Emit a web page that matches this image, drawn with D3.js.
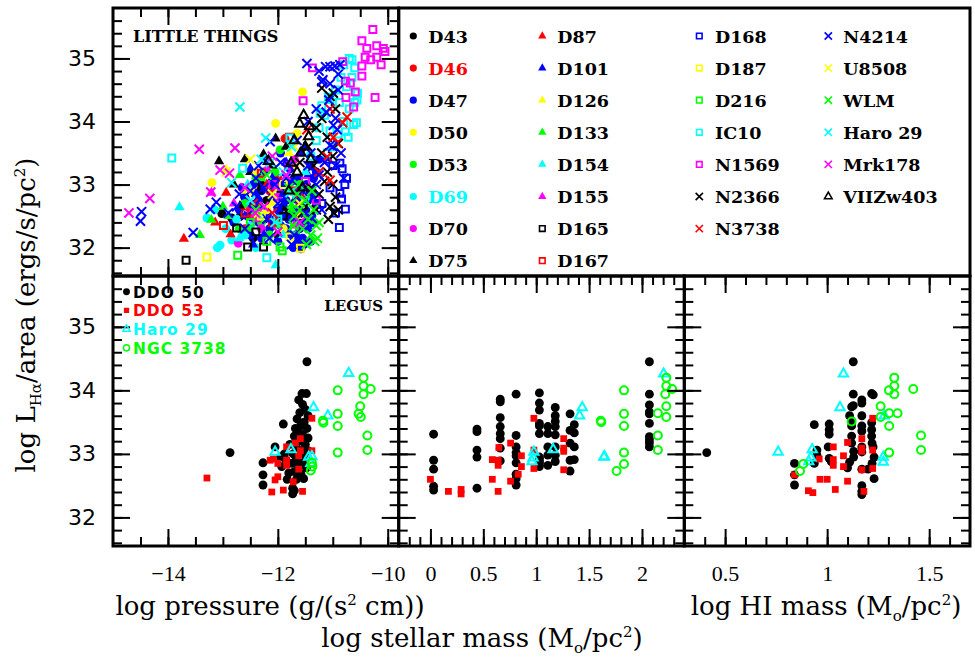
<!DOCTYPE html>
<html>
<head>
<meta charset="utf-8">
<script src="https://cdn.jsdelivr.net/npm/d3@7"></script>
<style>
  body { margin: 0; background: #fff; }
  svg { display: block; }
</style>
</head>
<body>
<div id="chart"></div>
<script>
// ---- LITTLE THINGS: [log pressure, log LHa/area] ----
var d43 = [[-13.02,32.54],[-12.84,32.47],[-12.69,32.49],[-12.55,32.3],[-12.4,32.6],[-12.2,32.75],[-12.1,32.4],[-11.95,32.9],[-11.8,32.55],[-12.6,32.8],[-12.3,33.0],[-11.7,33.1],[-12.0,32.2],[-12.45,32.15],[-11.9,32.65]];
var d46 = [[-12.3,32.5],[-12.0,33.1],[-11.6,32.7],[-12.6,32.3],[-11.87,33.73],[-12.15,32.9],[-11.75,33.3]];
var d47 = [[-12.8,32.4],[-12.7,32.6],[-12.6,32.8],[-12.55,32.5],[-12.5,32.2],[-12.45,33.0],[-12.4,32.7],[-12.35,32.4],[-12.3,32.9],[-12.25,33.2],[-12.2,32.55],[-12.15,32.3],[-12.1,32.8],[-12.05,33.05],[-12.0,32.6],[-11.95,32.35],[-11.9,33.0],[-11.85,32.75],[-11.8,32.45],[-11.78,33.25],[-11.75,32.9],[-11.7,32.6],[-11.68,32.2],[-11.65,32.05],[-11.62,33.1],[-11.6,32.8],[-11.58,32.4],[-11.55,32.15],[-11.52,32.05],[-11.5,32.6],[-11.48,33.0],[-11.45,32.3],[-11.42,32.85],[-11.4,33.3],[-11.38,32.5],[-11.35,33.1],[-11.3,32.7],[-11.25,33.4],[-12.45,32.45],[-12.2,33.4],[-11.95,33.5],[-12.65,32.95],[-12.0,32.1],[-11.72,32.0],[-12.3,32.15],[-12.35,32.75],[-12.15,33.0],[-11.9,32.5],[-11.65,32.45],[-11.55,32.65],[-11.45,32.75],[-11.35,32.4],[-11.3,33.2],[-12.05,32.45],[-11.85,32.3],[-11.6,32.3],[-12.55,32.7],[-12.25,32.45],[-11.75,33.05],[-11.5,32.4],[-11.4,32.1],[-11.62,32.12],[-11.58,31.98]];
var d50 = [[-11.55,34.47],[-12.04,33.97],[-13.2,33.03],[-11.65,33.81],[-12.2,32.6],[-11.9,32.3],[-11.7,33.3],[-12.5,32.9]];
var d53 = [[-11.96,33.55],[-12.6,32.7],[-12.3,32.4],[-12.05,33.2],[-11.8,32.9],[-12.4,33.1],[-11.6,33.0],[-12.15,32.2],[-12.7,32.3]];
var d69 = [[-13.29,32.47],[-13.05,32.04],[-12.84,32.12],[-12.95,32.3],[-12.6,32.2],[-12.4,32.0],[-13.15,32.6],[-12.75,32.45],[-12.5,32.35],[-13.1,32.0]];
var d70 = [[-12.72,32.07],[-12.3,32.3],[-12.0,32.8],[-11.7,33.4],[-12.5,32.6]];
var d75 = [[-13.07,33.37],[-12.26,33.48],[-12.04,33.73],[-12.69,32.66],[-12.5,33.2],[-12.35,32.9],[-12.1,33.3],[-11.85,33.6],[-12.8,33.0],[-12.6,33.4]];
var d87 = [[-13.71,32.14],[-12.94,32.87],[-13.14,32.4],[-12.86,32.21],[-12.5,32.5],[-12.2,33.0],[-12.0,32.4]];
var d101 = [[-12.6,32.5],[-12.4,32.85],[-12.25,32.2],[-12.1,33.1],[-11.95,32.55],[-11.85,33.35],[-11.7,32.75],[-11.55,32.45],[-11.45,33.15],[-11.35,32.9],[-12.5,33.25],[-12.0,32.95],[-11.8,32.2],[-11.6,33.5],[-12.3,32.65],[-11.9,32.85],[-12.15,32.45],[-11.65,32.6],[-11.5,33.6],[-12.45,32.05]];
var d126 = [[-12.4,33.2],[-12.1,32.7],[-11.8,33.5],[-11.6,32.5],[-12.6,32.9],[-12.94,33.23]];
var d133 = [[-13.42,32.2],[-13.21,32.44],[-12.69,33.15],[-12.9,32.5],[-12.55,32.3],[-12.3,33.1],[-12.0,32.35],[-11.75,32.6],[-13.0,32.65]];
var d154 = [[-13.79,32.64],[-12.04,31.72],[-12.7,32.15],[-12.3,32.5],[-11.9,32.2],[-11.5,33.2],[-12.55,33.0]];
var d155 = [[-13.21,32.87],[-12.8,32.7],[-12.4,32.45],[-12.0,32.95],[-11.7,32.35],[-12.2,33.25]];
var d165 = [[-13.67,31.8],[-12.75,32.31],[-12.55,32.01],[-12.26,32.01],[-12.4,32.25],[-11.9,32.5]];
var d167 = [[-12.99,32.35],[-12.3,33.18],[-11.79,33.75],[-12.6,32.55],[-12.1,32.4],[-11.7,32.9]];
var d168 = [[-10.87,33.34],[-10.83,33.25],[-10.87,32.86],[-10.84,32.77],[-10.77,32.61],[-10.88,32.32],[-10.75,33.1],[-10.78,33.0],[-11.0,33.3],[-11.05,32.95],[-11.2,32.7],[-11.4,32.4],[-11.6,32.9],[-11.1,33.4],[-10.95,32.55]];
var d187 = [[-13.29,31.85],[-11.78,32.17],[-11.59,31.99],[-12.3,32.5],[-11.9,33.0]];
var d216 = [[-12.73,31.88],[-11.96,32.01],[-11.92,31.95],[-12.2,32.1],[-12.5,32.4],[-11.7,32.3]];
var ic10 = [[-13.93,33.42],[-12.64,33.26],[-12.2,31.84],[-11.78,33.74],[-10.65,34.98],[-10.56,34.34],[-10.57,33.98],[-10.77,33.84],[-11.08,34.39],[-11.23,34.13],[-11.25,33.9],[-11.15,34.1],[-11.05,34.35],[-10.95,34.5],[-10.85,34.7],[-10.8,34.9],[-10.7,35.0],[-10.75,34.55],[-10.65,34.7],[-10.6,34.3],[-10.7,34.2],[-10.8,34.0],[-10.9,33.8],[-11.0,33.6],[-11.1,33.5],[-10.62,33.95],[-10.55,34.45],[-10.88,34.3],[-11.2,34.25],[-10.72,33.75],[-10.6,34.85],[-11.3,33.7],[-11.05,33.85],[-12.0,32.45],[-11.5,32.75],[-11.4,33.45]];
var n1569 = [[-10.27,35.46],[-10.47,35.28],[-10.2,35.2],[-10.38,35.16],[-10.08,35.16],[-10.05,35.11],[-10.41,35.02],[-10.2,35.02],[-10.31,34.98],[-10.12,34.9],[-10.47,34.88],[-11.37,34.85],[-10.82,34.95],[-10.47,34.72],[-10.77,34.64],[-10.68,34.61],[-10.59,34.47],[-10.76,34.38],[-10.23,34.38],[-11.54,34.33],[-10.62,34.23],[-11.8,33.3],[-12.1,33.0],[-11.5,33.05],[-11.3,32.75]];
var n2366 = [[-11.45,33.6],[-11.3,33.9],[-11.2,33.5],[-11.1,33.2],[-11.0,33.0],[-10.95,32.8],[-10.9,32.6],[-11.05,32.65],[-11.15,33.05],[-11.25,32.85],[-11.35,33.3],[-11.4,32.95],[-11.0,33.45],[-10.9,33.65],[-11.1,33.75],[-11.2,34.05],[-10.95,34.2],[-11.05,34.4],[-11.5,32.65],[-11.6,33.35],[-10.98,32.55],[-11.08,32.45],[-11.3,32.6],[-11.55,32.55],[-10.99,34.45],[-11.2,34.53]];
var n3738 = [[-10.74,34.07],[-10.82,33.98],[-10.92,33.66],[-11.05,33.07],[-10.99,33.75],[-11.05,34.2],[-11.47,33.87],[-11.59,32.87],[-11.1,33.44],[-12.38,32.65],[-12.45,32.7],[-12.1,32.55],[-11.25,33.2]];
var n4214 = [[-11.47,34.92],[-11.13,34.87],[-11.05,34.87],[-10.96,34.88],[-10.87,34.9],[-10.9,34.75],[-11.2,34.63],[-11.18,34.66],[-10.9,34.5],[-11.07,34.34],[-11.12,34.15],[-10.99,33.94],[-10.92,33.87],[-11.05,33.62],[-14.48,32.57],[-14.5,32.42],[-13.54,32.24],[-13.23,32.61],[-13.12,32.72],[-12.14,33.68],[-12.9,32.55],[-12.7,32.85],[-12.45,32.6],[-12.25,32.95],[-12.0,32.7],[-11.85,33.1],[-11.7,32.5],[-11.55,32.9],[-11.4,33.5],[-11.3,33.0],[-11.2,32.6],[-12.6,32.3],[-12.35,33.3],[-11.95,33.35],[-11.65,33.7],[-11.45,34.0],[-11.3,34.2],[-10.95,33.3],[-10.85,33.5],[-10.8,33.1],[-12.15,32.15],[-11.75,32.05],[-12.5,32.9],[-12.2,32.45],[-12.05,33.0],[-11.9,32.7],[-11.8,33.3],[-11.6,32.95],[-11.5,32.55],[-11.35,32.8],[-11.25,33.15],[-11.15,33.35],[-11.0,33.6],[-10.95,34.05],[-12.4,33.1],[-12.75,32.65],[-11.7,32.2],[-11.45,33.3],[-11.05,34.6],[-11.25,34.8]];
var u8508 = [[-12.94,33.2],[-12.5,33.4],[-12.1,32.85],[-11.7,33.6],[-11.6,32.7],[-12.35,32.55]];
var wlm = [[-11.8,32.95],[-11.75,32.7],[-11.7,32.5],[-11.65,32.85],[-11.6,32.6],[-11.55,32.3],[-11.5,32.75],[-11.45,32.45],[-11.4,32.2],[-11.35,32.6],[-11.3,32.35],[-11.28,32.15],[-11.38,32.9],[-11.62,33.0],[-11.72,32.35],[-11.48,32.05],[-11.33,32.1],[-11.25,32.4],[-12.2,33.15],[-12.4,32.6]];
var haro29 = [[-12.69,34.23],[-12.22,33.74],[-12.84,33.03],[-12.14,33.35],[-11.78,32.87],[-12.5,32.75],[-11.9,33.2],[-11.75,33.6],[-12.3,33.4],[-12.05,32.4]];
var mrk178 = [[-14.71,32.55],[-14.33,32.78],[-13.43,33.56],[-12.78,33.58],[-13.05,33.23],[-12.88,33.18],[-13.22,32.88],[-12.41,32.55],[-12.1,33.45],[-11.85,33.15],[-12.6,32.95],[-11.6,32.4],[-12.25,32.65],[-12.0,32.25]];
var viizw403 = [[-11.53,34.1],[-11.6,33.96],[-11.42,33.92],[-11.44,33.76],[-11.5,33.6],[-11.58,33.5],[-11.7,33.7],[-12.17,33.37],[-11.76,33.34],[-11.65,33.2],[-11.8,32.9],[-11.4,33.4],[-11.55,32.95]];

// ---- LEGUS: [x, log LHa/area] for pressure, stellar mass and HI mass ----
var ddo50P = [[-11.47,34.45],[-11.56,33.95],[-11.48,33.95],[-11.62,33.85],[-11.55,33.78],[-11.5,33.7],[-11.6,33.65],[-11.45,33.6],[-11.65,33.55],[-11.52,33.5],[-11.58,33.45],[-11.68,33.4],[-11.47,33.4],[-11.62,33.35],[-11.55,33.3],[-11.7,33.28],[-11.45,33.25],[-11.6,33.2],[-11.5,33.15],[-11.66,33.1],[-11.56,33.05],[-11.45,33.05],[-11.72,33.0],[-11.6,32.95],[-11.5,32.95],[-11.67,32.9],[-11.55,32.85],[-11.75,32.85],[-11.62,32.8],[-11.48,32.78],[-11.7,32.72],[-11.58,32.68],[-11.53,32.61],[-11.66,32.6],[-11.73,32.46],[-11.73,32.37],[-11.7,32.42],[-11.9,33.47],[-12.05,33.11],[-11.93,32.8],[-11.88,33.0],[-12.27,32.86],[-12.27,32.67],[-12.27,32.51],[-12.87,33.02],[-11.8,32.7],[-11.85,32.9],[-11.95,32.95],[-11.78,33.15],[-11.83,32.6]];
var ddo53P = [[-13.29,32.62],[-12.14,32.9],[-12.08,32.92],[-11.84,33.11],[-11.84,32.9],[-11.84,32.82],[-11.68,33.17],[-11.59,33.24],[-11.59,33.05],[-11.62,32.97],[-11.38,33.56],[-11.38,33.05],[-12.05,32.59],[-12.0,32.64],[-11.72,32.56],[-12.11,32.4],[-11.9,32.43],[-11.55,32.41],[-11.62,32.76],[-12.0,32.85]];
var haroP = [[-10.71,34.27],[-11.35,33.73],[-11.09,33.6],[-12.05,33.03],[-11.76,33.07],[-11.44,32.95],[-11.38,32.96],[-11.4,32.85]];
var ngcP = [[-10.44,34.2],[-10.44,34.07],[-10.31,34.02],[-10.44,33.94],[-10.91,34.0],[-10.5,33.75],[-10.53,33.63],[-10.49,33.58],[-10.91,33.63],[-10.91,33.44],[-11.18,33.52],[-11.17,33.49],[-10.37,33.29],[-10.37,33.06],[-10.91,33.02],[-11.38,32.86],[-11.4,32.74],[-11.37,32.8]];

var ddo50S = [[0.03,33.31],[0.03,32.9],[0.03,32.76],[0.03,32.49],[0.03,32.43],[0.44,33.39],[0.44,33.35],[0.44,33.06],[0.44,32.95],[0.44,32.46],[0.66,33.86],[0.66,33.82],[0.66,33.57],[0.66,33.43],[0.66,33.32],[0.66,33.24],[0.66,33.09],[0.66,32.89],[0.81,33.94],[0.81,33.29],[0.81,33.11],[0.81,33.02],[0.81,32.97],[0.81,32.86],[0.81,32.68],[0.81,32.61],[0.81,32.51],[1.03,33.96],[1.03,33.8],[1.03,33.69],[1.03,33.48],[1.03,33.44],[1.03,33.32],[1.03,32.95],[1.03,32.88],[1.03,32.8],[1.03,32.85],[1.03,32.92],[1.11,33.43],[1.11,33.32],[1.11,33.11],[1.11,32.98],[1.11,32.82],[1.18,33.73],[1.18,33.6],[1.18,33.51],[1.18,33.43],[1.18,33.3],[1.18,33.11],[1.18,32.98],[1.18,32.88],[1.32,33.63],[1.32,33.37],[1.32,33.17],[1.32,32.9],[1.32,32.73],[1.36,33.46],[1.36,33.33],[1.36,33.11],[1.36,32.91],[2.07,34.45],[2.07,33.94],[2.07,33.77],[2.07,33.66],[2.07,33.63],[2.07,33.48],[2.07,33.27],[2.07,33.22],[2.07,33.17],[2.07,33.11]];
var ddo53S = [[0.0,32.6],[0.17,32.41],[0.29,32.44],[0.29,32.37],[0.585,32.91],[0.647,33.1],[0.64,32.9],[0.64,32.82],[0.585,32.6],[0.64,32.41],[0.758,33.17],[0.86,32.97],[0.86,32.8],[0.83,32.68],[0.758,32.57],[0.978,33.56],[0.978,33.06],[0.978,32.77],[1.26,33.24],[1.26,33.09],[1.26,33.04],[1.26,32.75]];
var haroS = [[1.435,33.73],[1.41,33.6],[0.978,33.03],[0.97,32.94],[0.96,32.88],[1.16,33.07],[1.64,32.95],[1.645,32.96],[2.205,34.26]];
var ngcS = [[1.61,33.52],[1.615,33.5],[1.83,34.0],[1.83,33.63],[1.83,33.44],[1.83,33.02],[1.83,32.84],[1.76,32.73],[2.23,34.2],[2.23,34.07],[2.285,34.02],[2.22,33.94],[2.23,33.75],[2.23,33.58],[2.15,33.64],[2.15,33.29],[2.15,33.06]];

var ddo50H = [[0.41,33.02],[0.84,32.85],[0.84,32.67],[0.84,32.51],[0.937,33.46],[0.95,33.06],[0.95,32.98],[0.937,32.85],[1.01,33.47],[1.01,33.38],[1.01,33.31],[1.005,33.11],[1.01,32.93],[1.02,32.88],[1.128,34.45],[1.128,33.94],[1.12,33.74],[1.128,33.76],[1.11,33.6],[1.12,33.44],[1.12,33.28],[1.12,33.17],[1.13,33.04],[1.13,32.95],[1.11,32.87],[1.1,32.78],[1.17,33.85],[1.17,33.8],[1.17,33.6],[1.17,33.44],[1.17,33.36],[1.17,33.11],[1.17,33.03],[1.17,32.76],[1.17,32.5],[1.17,32.41],[1.17,32.36],[1.218,33.95],[1.226,33.93],[1.218,33.49],[1.218,33.38],[1.218,33.28],[1.22,33.17],[1.225,33.11],[1.23,32.95],[1.22,32.85],[1.23,32.61],[1.2,32.76],[1.12,33.52]];
var ddo53H = [[0.84,32.67],[0.961,32.92],[0.965,32.6],[1.0,32.6],[0.908,32.42],[0.93,32.39],[1.04,32.44],[1.03,33.11],[1.03,32.91],[1.03,32.82],[1.08,32.8],[1.08,32.97],[1.10,33.18],[1.10,32.57],[1.17,33.24],[1.17,33.09],[1.17,33.04],[1.17,32.75],[1.223,33.56],[1.223,33.06],[1.223,32.77],[1.18,32.41]];
var haroH = [[0.76,33.03],[0.927,33.07],[0.92,32.94],[0.91,32.88],[1.08,34.26],[1.063,33.73],[1.275,32.95],[1.275,32.87],[1.28,33.6]];
var ngcH = [[1.12,33.51],[0.867,32.73],[0.883,32.84],[1.329,34.2],[1.329,34.07],[1.303,34.0],[1.329,33.94],[1.422,34.02],[1.262,33.75],[1.262,33.58],[1.304,33.64],[1.345,33.64],[1.304,33.44],[1.304,33.02],[1.46,33.29],[1.46,33.06]];

// tick values
var yMajor = [32, 33, 34, 35];
var pMajor = [-14, -12, -10];
var sMajor = [0, 0.5, 1, 1.5, 2];
var hMajor = [0.5, 1, 1.5];

var width = 975, height = 658;
var X0 = 113, X1 = 398.7, X2 = 684.3, X3 = 970;
var Y0 = 8, Y1 = 276, Y2 = 546;

var serif = "'DejaVu Serif', serif";
var sans = "'DejaVu Sans', sans-serif";

var svg = d3.select("#chart").append("svg")
    .attr("width", width)
    .attr("height", height);

var xP = d3.scaleLinear().domain([-15, -9.8]).range([X0, X1]);
var xS = d3.scaleLinear().domain([-0.3, 2.4]).range([X1, X2]);
var xH = d3.scaleLinear().domain([0.3, 1.7]).range([X2, X3]);
var yTop = d3.scaleLinear().domain([31.55, 35.8]).range([Y1, Y0]);
var yBot = d3.scaleLinear().domain([31.55, 35.8]).range([Y2, Y1]);

var yMinor = d3.range(158, 179).map(v => v / 5);
var pMinor = d3.range(-29, -19).map(v => v / 2);
var sMinor = d3.range(-2, 24).map(v => v / 10);
var hMinor = d3.range(4, 17).map(v => v / 10);

// marker shapes
function marker(type, size) {
    var s = size || 1;
    if (type == "fcircle") return { d: d3.symbol(d3.symbolCircle, 62 * s)(), fill: true };
    if (type == "ftri") return { d: d3.symbol(d3.symbolTriangle, 46 * s)(), fill: true };
    if (type == "fsq") return { d: d3.symbol(d3.symbolSquare, 46 * s)(), fill: true };
    if (type == "osq") return { d: d3.symbol(d3.symbolSquare, 48 * s)(), fill: false };
    if (type == "cross") return { d: d3.symbol(d3.symbolTimes, 56 * s)(), fill: false };
    if (type == "otri") return { d: d3.symbol(d3.symbolTriangle, 38 * s)(), fill: false };
    if (type == "ocircle") return { d: d3.symbol(d3.symbolCircle, 50 * s)(), fill: false };
}

function drawPoints(g, data, x, y, type, color) {
    var m = marker(type);
    g.append("g")
        .selectAll("path")
        .data(data)
        .enter()
        .append("path")
        .attr("d", m.d)
        .attr("transform", d => "translate(" + x(d[0]) + "," + y(d[1]) + ")")
        .attr("fill", m.fill ? color : "none")
        .attr("stroke", m.fill ? "none" : color)
        .attr("stroke-width", 2);
}

// top panel series, in legend order
var series = [
    ["D43", d43, "fcircle", "#000000"], ["D46", d46, "fcircle", "#ff0000"], ["D47", d47, "fcircle", "#0000ff"],
    ["D50", d50, "fcircle", "#ffff00"], ["D53", d53, "fcircle", "#00ff00"], ["D69", d69, "fcircle", "#00ffff"],
    ["D70", d70, "fcircle", "#ff00ff"], ["D75", d75, "ftri", "#000000"],
    ["D87", d87, "ftri", "#ff0000"], ["D101", d101, "ftri", "#0000ff"], ["D126", d126, "ftri", "#ffff00"],
    ["D133", d133, "ftri", "#00ff00"], ["D154", d154, "ftri", "#00ffff"], ["D155", d155, "ftri", "#ff00ff"],
    ["D165", d165, "osq", "#000000"], ["D167", d167, "osq", "#ff0000"],
    ["D168", d168, "osq", "#0000ff"], ["D187", d187, "osq", "#ffff00"], ["D216", d216, "osq", "#00ff00"],
    ["IC10", ic10, "osq", "#00ffff"], ["N1569", n1569, "osq", "#ff00ff"], ["N2366", n2366, "cross", "#000000"],
    ["N3738", n3738, "cross", "#ff0000"],
    ["N4214", n4214, "cross", "#0000ff"], ["U8508", u8508, "cross", "#ffff00"], ["WLM", wlm, "cross", "#00ff00"],
    ["Haro 29", haro29, "cross", "#00ffff"], ["Mrk178", mrk178, "cross", "#ff00ff"], ["VIIZw403", viizw403, "otri", "#000000"]
];

var topG = svg.append("g");
series.forEach(s => drawPoints(topG, s[1], xP, yTop, s[2], s[3]));

// LEGUS panels
var legus = [
    ["DDO 50", "fcircle", "#000000", ddo50P, ddo50S, ddo50H],
    ["DDO 53", "fsq", "#ff0000", ddo53P, ddo53S, ddo53H],
    ["Haro 29", "otri", "#00ffff", haroP, haroS, haroH],
    ["NGC 3738", "ocircle", "#00ff00", ngcP, ngcS, ngcH]
];
var botG = svg.append("g");
legus.forEach(s => {
    drawPoints(botG, s[3], xP, yBot, s[1], s[2]);
    drawPoints(botG, s[4], xS, yBot, s[1], s[2]);
    drawPoints(botG, s[5], xH, yBot, s[1], s[2]);
});

// ticks on all four sides of a panel
function panelTicks(x, y, xMin, xMaj, xa, xb, ya, yb) {
    var g = svg.append("g");
    [[xMin, 9], [xMaj, 17]].forEach(t => {
        g.append("g").attr("transform", "translate(0," + yb + ")")
            .call(d3.axisBottom(x).tickValues(t[0]).tickSize(-t[1]).tickFormat(""));
        g.append("g").attr("transform", "translate(0," + ya + ")")
            .call(d3.axisTop(x).tickValues(t[0]).tickSize(-t[1]).tickFormat(""));
    });
    [[yMinor, 9], [yMajor, 17]].forEach(t => {
        g.append("g").attr("transform", "translate(" + xa + ",0)")
            .call(d3.axisLeft(y).tickValues(t[0]).tickSize(-t[1]).tickFormat(""));
        g.append("g").attr("transform", "translate(" + xb + ",0)")
            .call(d3.axisRight(y).tickValues(t[0]).tickSize(-t[1]).tickFormat(""));
    });
    g.selectAll(".domain").remove();
    g.selectAll(".tick line").attr("stroke", "#000").attr("stroke-width", 2);
    svg.append("rect")
        .attr("x", xa).attr("y", ya)
        .attr("width", xb - xa).attr("height", yb - ya)
        .attr("fill", "none").attr("stroke", "#000").attr("stroke-width", 3);
}

panelTicks(xP, yTop, pMinor, pMajor, X0, X1, Y0, Y1);
panelTicks(xP, yBot, pMinor, pMajor, X0, X1, Y1, Y2);
panelTicks(xS, yBot, sMinor, sMajor, X1, X2, Y1, Y2);
panelTicks(xH, yBot, hMinor, hMajor, X2, X3, Y1, Y2);

// legend box
svg.append("rect")
    .attr("x", X1).attr("y", Y0)
    .attr("width", X3 - X1).attr("height", Y1 - Y0)
    .attr("fill", "none").attr("stroke", "#000").attr("stroke-width", 3);

// tick labels
var fmt = d3.format("~g");
function labels(axis, tx, ty, vals, pad, font, size) {
    var g = svg.append("g").attr("transform", "translate(" + tx + "," + ty + ")")
        .call(axis.tickValues(vals).tickSize(0).tickPadding(pad).tickFormat(fmt));
    g.select(".domain").remove();
    g.selectAll("text").attr("font-family", font).attr("font-size", size).attr("fill", "#000");
}
labels(d3.axisLeft(yTop), X0, 0, yMajor, 17, sans, 22);
labels(d3.axisLeft(yBot), X0, 0, yMajor, 17, sans, 22);
labels(d3.axisBottom(xP), 0, Y2, pMajor, 19, "'Liberation Serif', serif", 22);
labels(d3.axisBottom(xS), 0, Y2, sMajor, 19, "'Liberation Serif', serif", 22);
labels(d3.axisBottom(xH), 0, Y2, hMajor, 19, "'Liberation Serif', serif", 22);

// top-right legend
var colX = [[413.3, 428.3], [542.3, 557.3], [699.3, 715], [828.3, 843.3]];
var colRows = [8, 8, 7, 6];
var idx = 0;
colRows.forEach((n, c) => {
    for (var r = 0; r < n; r++) {
        var s = series[idx++];
        var cy = 36 + r * 32.1;
        var m = marker(s[2], 0.65);
        svg.append("path").attr("d", m.d)
            .attr("transform", "translate(" + colX[c][0] + "," + cy + ")")
            .attr("fill", m.fill ? s[3] : "none")
            .attr("stroke", m.fill ? "none" : s[3])
            .attr("stroke-width", 1.6);
        svg.append("text").attr("x", colX[c][1]).attr("y", cy + 6.5)
            .attr("font-family", serif).attr("font-size", 17.5).attr("font-weight", "bold")
            .attr("fill", s[0] == "D46" ? "#ff0000" : s[0] == "D69" ? "#00ffff" : "#000")
            .text(s[0]);
    }
});

// LEGUS legend
legus.forEach((s, i) => {
    var cy = 291.7 + i * 18.7;
    var m = marker(s[1], 0.6);
    svg.append("path").attr("d", m.d)
        .attr("transform", "translate(126.5," + cy + ")")
        .attr("fill", m.fill ? s[2] : "none")
        .attr("stroke", m.fill ? "none" : s[2])
        .attr("stroke-width", 1.5);
    svg.append("text").attr("x", 133).attr("y", cy + 6)
        .attr("font-family", sans).attr("font-size", 15.5).attr("font-weight", "bold")
        .attr("letter-spacing", 1)
        .attr("fill", s[2]).text(s[0]);
});

svg.append("text").attr("x", 133).attr("y", 41.5)
    .attr("font-family", serif).attr("font-size", 16).attr("font-weight", "bold").text("LITTLE THINGS");
svg.append("text").attr("x", 383).attr("y", 311).attr("text-anchor", "end")
    .attr("font-family", serif).attr("font-size", 15).attr("font-weight", "bold").text("LEGUS");

// axis titles
function title(x, y, parts, rotate) {
    var t = svg.append("text")
        .attr("transform", "translate(" + x + "," + y + ")" + (rotate ? " rotate(-90)" : ""))
        .attr("text-anchor", "middle")
        .attr("font-family", serif).attr("font-size", 26).attr("fill", "#000");
    var shift = 0;
    parts.forEach(p => {
        var sp = t.append("tspan").text(p[0]);
        var dy = p[1] == "sup" ? -10 : p[1] == "sub" ? 6 : 0;
        sp.attr("dy", dy - shift);
        shift = dy;
        if (p[1]) sp.attr("font-size", 15);
    });
}
title(270, 615, [["log pressure (g/(s"], ["2", "sup"], [" cm))"]]);
title(826, 615, [["log HI mass (M"], ["o", "sub"], ["/pc"], ["2", "sup"], [")"]]);
title(482, 647, [["log stellar mass (M"], ["o", "sub"], ["/pc"], ["2", "sup"], [")"]]);
title(35, 315, [["log L"], ["Hα", "sub"], ["/area (ergs/s/pc"], ["2", "sup"], [")"]], true);
</script>
</body>
</html>
